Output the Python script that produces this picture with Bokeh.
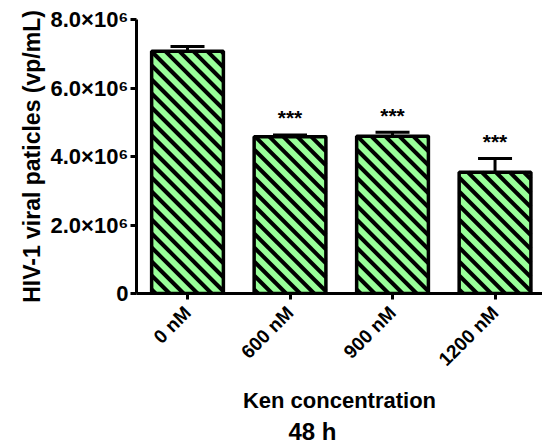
from bokeh.plotting import figure
from bokeh.models import (ColumnDataSource, Range1d, FixedTicker, Whisker, TeeHead, Title)
from bokeh.embed import file_html
from bokeh.resources import INLINE
from bokeh.core.properties import value
import math

categories = ["0 nM", "600 nM", "900 nM", "1200 nM"]
means = [7.07e6, 4.58e6, 4.59e6, 3.54e6]
sds = [0.14e6, 0.05e6, 0.12e6, 0.40e6]
stars = ["", "***", "***", "***"]
y_ticks = [0, 2e6, 4e6, 6e6, 8e6]
y_tick_labels = ["0", "2.0×10⁶", "4.0×10⁶", "6.0×10⁶", "8.0×10⁶"]

FONT = "Liberation Sans"
GREEN = "#99FF99"

FRAME_W, FRAME_H = 406, 274
X0, X1 = -0.4976, 3.463
Y0, Y1 = 0, 8e6
BAR_W = 0.70

xs = list(range(len(categories)))
src = ColumnDataSource(dict(
    x=xs, top=means,
    upper=[m + s for m, s in zip(means, sds)],
    lower=[m - s for m, s in zip(means, sds)],
    star_y=[m + s + 0.5e6 for m, s in zip(means, sds)],
    star=stars,
))

# 45-degree hatch lines (screen space), computed from each bar's extent
px_x = FRAME_W / (X1 - X0)
px_y = FRAME_H / (Y1 - Y0)
PERIOD = 14.0
hx0, hy0, hx1, hy1 = [], [], [], []
for xc, m in zip(xs, means):
    W = BAR_W * px_x
    H = m * px_y
    left = xc - BAR_W / 2
    c = 4.0
    while c < W + H:
        ua, ub = max(0.0, c - H), min(W, c)
        va, vb = c - ua, c - ub
        hx0.append(left + ua / px_x); hy0.append(va / px_y)
        hx1.append(left + ub / px_x); hy1.append(vb / px_y)
        c += PERIOD

p = figure(frame_width=FRAME_W, frame_height=FRAME_H, output_backend="svg", toolbar_location=None,
           x_range=Range1d(X0, X1), y_range=Range1d(Y0, Y1),
           min_border_left=136, min_border_top=19, min_border_right=0, min_border_bottom=0)
p.outline_line_color = None
p.xgrid.visible = False
p.ygrid.visible = False

p.vbar(x="x", top="top", width=BAR_W, source=src, fill_color=GREEN, line_color=None)
p.segment(x0=hx0, y0=hy0, x1=hx1, y1=hy1, line_color="black", line_width=4)
p.vbar(x="x", top="top", width=BAR_W, source=src, fill_color=None,
       line_color="black", line_width=3.5)

w = Whisker(base="x", upper="upper", lower="lower", source=src,
            line_color="black", line_width=3,
            upper_head=TeeHead(size=34, line_width=3, line_color="black"),
            lower_head=TeeHead(size=34, line_width=3, line_color=GREEN))
p.add_layout(w)

p.text(x="x", y="star_y", text="star", source=src, text_align="center", text_baseline="middle",
       text_font=value(FONT), text_font_style="bold", text_font_size="21px", text_color="black")

for ax in (p.xaxis[0], p.yaxis[0]):
    ax.axis_line_width = 3
    ax.axis_line_color = "black"
    ax.major_tick_line_width = 3
    ax.major_tick_out = 6
    ax.major_tick_in = 0
    ax.minor_tick_line_color = None
    ax.major_label_text_font = FONT
    ax.major_label_text_font_style = "bold"
    ax.major_label_text_color = "black"
    ax.axis_label_text_font = FONT
    ax.axis_label_text_font_style = "bold"
    ax.axis_label_text_color = "black"

p.yaxis.ticker = FixedTicker(ticks=y_ticks)
p.yaxis.major_label_overrides = {int(t): l for t, l in zip(y_ticks, y_tick_labels)}
p.yaxis.major_label_text_font_size = "22px"
p.yaxis.major_label_standoff = 2
p.yaxis.axis_label = "HIV-1 viral paticles (vp/mL)"
p.yaxis.axis_label_text_font_size = "23px"
p.yaxis.axis_label_standoff = 2

p.xaxis.ticker = FixedTicker(ticks=xs)
p.xaxis.major_label_overrides = {i: c for i, c in zip(xs, categories)}
p.xaxis.major_label_orientation = math.pi / 4
p.xaxis.major_label_text_font_size = "19px"
p.xaxis.major_label_standoff = 10
p.xaxis.axis_label = "Ken concentration"
p.xaxis.axis_label_text_font_size = "22px"
p.xaxis.axis_label_standoff = 8

t = Title(text="48 h", align="left", offset=152, text_font=FONT, text_font_style="bold",
          text_font_size="24px", text_color="black", standoff=0, vertical_align="middle")
p.add_layout(t, "below")

open("out.html", "w").write(file_html(p, INLINE))
